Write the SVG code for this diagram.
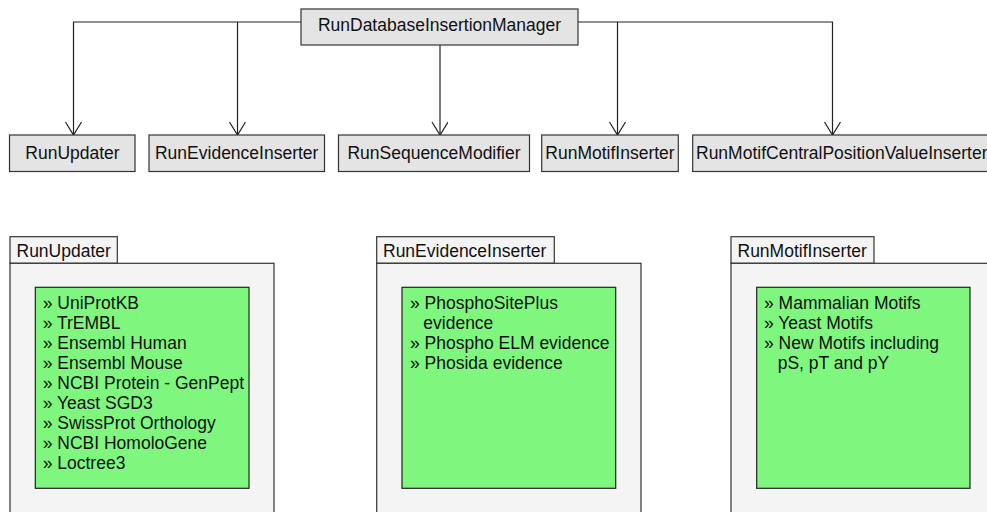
<svg xmlns="http://www.w3.org/2000/svg" width="987" height="512" viewBox="0 0 987 512">
<style>
text{font-family:"Liberation Sans",Arial,sans-serif;font-size:17.5px;fill:#111}
.cls{fill:#e4e4e4;stroke:#333;stroke-width:1.2}
.pkg{fill:#f4f4f4;stroke:#333;stroke-width:1.2}
.note{fill:#7ff77f;stroke:#222;stroke-width:1.2}
.c{fill:none;stroke:#222;stroke-width:1.2}
.mid{text-anchor:middle}
</style>
<defs>
<marker id="v" markerWidth="20" markerHeight="20" refX="16" refY="8" orient="auto" markerUnits="userSpaceOnUse">
<path d="M3,0 L16,8 L3,16" fill="none" stroke="#222" stroke-width="1.2"/>
</marker>
</defs>
<g id="connectors">
<path class="c" d="M301,22 H73.5 V135" marker-end="url(#v)"/>
<path class="c" d="M237.5,22 V135" marker-end="url(#v)"/>
<path class="c" d="M440,45 V135" marker-end="url(#v)"/>
<path class="c" d="M578,22 H832.5 V135" marker-end="url(#v)"/>
<path class="c" d="M617.5,22 V135" marker-end="url(#v)"/>
</g>
<g id="RunDatabaseInsertionManager">
<rect class="cls" x="301" y="9" width="277" height="36"/>
<text class="mid" x="439.5" y="31">RunDatabaseInsertionManager</text>
</g>
<g id="RunUpdater">
<rect class="cls" x="9.5" y="135" width="125.5" height="36.5"/>
<text class="mid" x="72.5" y="158.5">RunUpdater</text>
</g>
<g id="RunEvidenceInserter">
<rect class="cls" x="149" y="135" width="175.5" height="36.5"/>
<text class="mid" x="236.7" y="158.5">RunEvidenceInserter</text>
</g>
<g id="RunSequenceModifier">
<rect class="cls" x="338.5" y="135" width="191" height="36.5"/>
<text class="mid" x="434" y="158.5">RunSequenceModifier</text>
</g>
<g id="RunMotifInserter">
<rect class="cls" x="541.7" y="135" width="136.6" height="36.5"/>
<text class="mid" x="610" y="158.5">RunMotifInserter</text>
</g>
<g id="RunMotifCentralPositionValueInserter">
<rect class="cls" x="692.7" y="135" width="310" height="36.5"/>
<text x="696" y="158.5">RunMotifCentralPositionValueInserter</text>
</g>
<g id="pkg-RunUpdater">
<rect class="pkg" x="10" y="236.7" width="107.3" height="26.6"/>
<text x="16.5" y="256.5">RunUpdater</text>
<rect class="pkg" x="10" y="263.3" width="264" height="260"/>
<rect class="note" x="35.3" y="287.3" width="213.7" height="201"/>
<text x="42.7" y="309.3">» UniProtKB</text>
<text x="42.7" y="329.3">» TrEMBL</text>
<text x="42.7" y="349.3">» Ensembl Human</text>
<text x="42.7" y="369.3">» Ensembl Mouse</text>
<text x="42.7" y="389.3">» NCBI Protein - GenPept</text>
<text x="42.7" y="409.3">» Yeast SGD3</text>
<text x="42.7" y="429.3">» SwissProt Orthology</text>
<text x="42.7" y="449.3">» NCBI HomoloGene</text>
<text x="42.7" y="469.3">» Loctree3</text>
</g>
<g id="pkg-RunEvidenceInserter">
<rect class="pkg" x="376.7" y="236.7" width="177.6" height="26.6"/>
<text x="383" y="256.5">RunEvidenceInserter</text>
<rect class="pkg" x="376.7" y="263.3" width="264.3" height="260"/>
<rect class="note" x="402" y="287.3" width="213.7" height="201"/>
<text x="410" y="309.3">» PhosphoSitePlus</text>
<text x="423.3" y="329.3">evidence</text>
<text x="410" y="349.3">» Phospho ELM evidence</text>
<text x="410" y="369.3">» Phosida evidence</text>
</g>
<g id="pkg-RunMotifInserter">
<rect class="pkg" x="731" y="236.7" width="143" height="26.6"/>
<text x="737.5" y="256.5">RunMotifInserter</text>
<rect class="pkg" x="731" y="263.3" width="264" height="260"/>
<rect class="note" x="756.7" y="287.3" width="213.3" height="201"/>
<text x="764" y="309.3">» Mammalian Motifs</text>
<text x="764" y="329.3">» Yeast Motifs</text>
<text x="764" y="349.3">» New Motifs including</text>
<text x="777.7" y="369.3">pS, pT and pY</text>
</g>
</svg>
